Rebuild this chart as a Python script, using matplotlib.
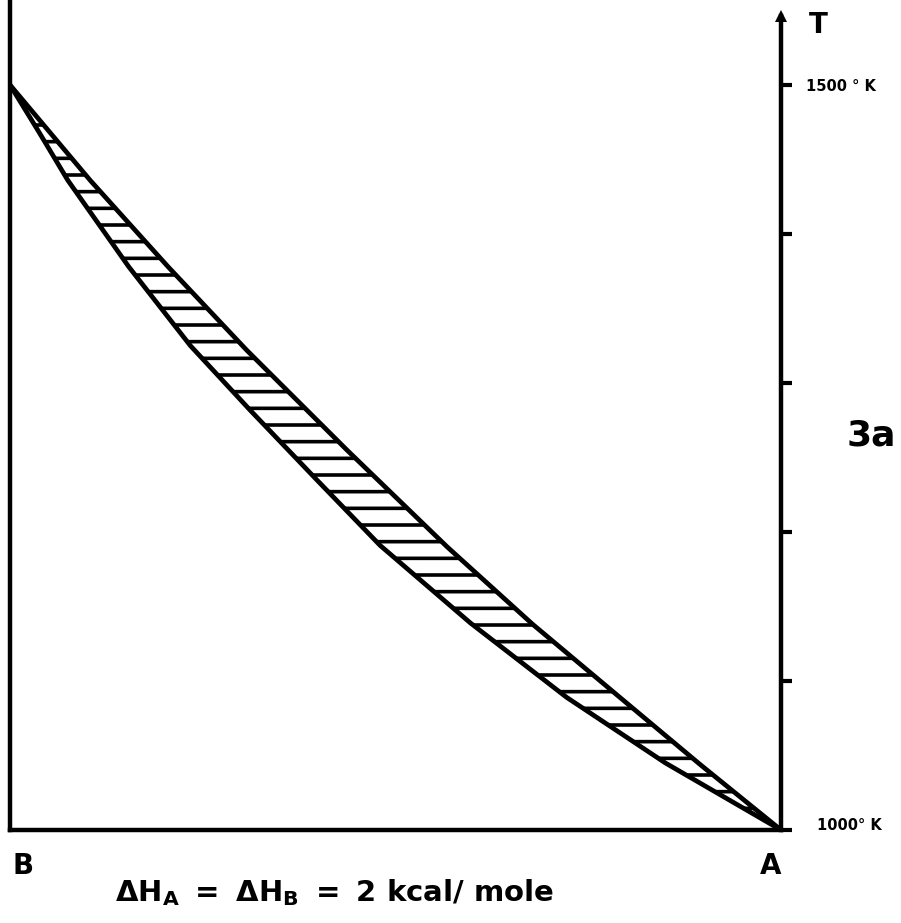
import matplotlib
matplotlib.use('Agg')
import matplotlib.pyplot as plt
import matplotlib.transforms as mtransforms
import numpy as np

# phase diagram, x = mole fraction of A (B at left, A at right)
x_liquidus = [0.0, 0.052, 0.104, 0.205, 0.307, 0.437, 0.567, 0.678, 0.791, 0.895, 1.0]
T_liquidus = [1500, 1468, 1436, 1378, 1322, 1255, 1190, 1138, 1089, 1044, 1000]

x_solidus = [0.0, 0.038, 0.075, 0.154, 0.234, 0.311, 0.396, 0.480, 0.597, 0.722, 0.850, 1.0]
T_solidus = [1500, 1468, 1436, 1378, 1325, 1282, 1236, 1191, 1139, 1089, 1045, 1000]

T_ticks = [1000, 1100, 1200, 1300, 1400, 1500]
T_ticklabels = ['1000° K', '', '', '', '', '1500 ° K']

plt.rcParams['hatch.linewidth'] = 2.6
plt.rcParams['font.weight'] = 'bold'
plt.rcParams['mathtext.fontset'] = 'dejavusans'

fig = plt.figure(figsize=(9.01, 9.23), dpi=100)
ax = fig.add_axes([10 / 901, 93 / 923, 771 / 901, 830 / 923])

lw = 3.4
# band between liquidus and solidus, hatched
poly_x = np.concatenate([x_liquidus, x_solidus[::-1]])
poly_T = np.concatenate([T_liquidus, T_solidus[::-1]])
ax.fill(poly_x, poly_T, facecolor='none', edgecolor='black', hatch='-', linewidth=0)
ax.plot(x_liquidus, T_liquidus, color='black', lw=lw, solid_joinstyle='round')
ax.plot(x_solidus, T_solidus, color='black', lw=lw, solid_joinstyle='round')

ax.set_xlim(0, 1)
ax.set_ylim(1000, 1557)

ax.spines['top'].set_visible(False)
for s in ['left', 'right', 'bottom']:
    ax.spines[s].set_linewidth(3.2)
ax.spines['right'].set_bounds(1000, 1546)
ax.plot(1, 1546, marker='^', ms=9, color='black', clip_on=False,
        markeredgewidth=0)

ax.set_xticks([])
ax.yaxis.tick_right()
ax.set_yticks(T_ticks)
ax.set_yticklabels(T_ticklabels, fontsize=10.5, fontweight='bold')
ax.tick_params(axis='y', direction='out', length=8, width=3, pad=10)
# the lower label sits a bit further right and higher
lbl = ax.get_yticklabels()[0]
lbl.set_transform(lbl.get_transform() +
                  mtransforms.ScaledTranslation(0.11, 0.06, fig.dpi_scale_trans))

fig.text(818 / 901, 1 - 25 / 923, 'T', fontsize=20, fontweight='bold', ha='center', va='center')
fig.text(871 / 901, 1 - 436 / 923, '3a', fontsize=26, fontweight='bold', ha='center', va='center')
fig.text(23 / 901, 1 - 866 / 923, 'B', fontsize=20, fontweight='bold', ha='center', va='center')
fig.text(771 / 901, 1 - 866 / 923, 'A', fontsize=20, fontweight='bold', ha='center', va='center')
fig.text(334 / 901, 1 - 893 / 923,
         r'$\mathbf{\Delta H_A\ =\ \Delta H_B\ =\ 2\ kcal/\ mole}$',
         fontsize=21, ha='center', va='center')

fig.savefig('out.png', dpi=100)
